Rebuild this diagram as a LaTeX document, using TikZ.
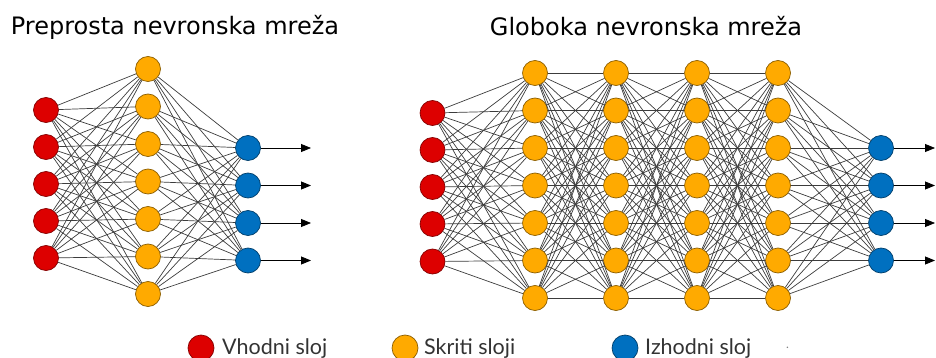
\documentclass[tikz,border=0pt]{standalone}
\usepackage{fontspec}
\setmainfont{DejaVu Sans}
\newfontfamily\legfont{Lato}
\usetikzlibrary{arrows.meta}
\definecolor{inred}{HTML}{DD0000}
\definecolor{hidorange}{HTML}{FFAA00}
\definecolor{outblue}{HTML}{0070C0}
\definecolor{edgegray}{HTML}{3C3C3C}
\definecolor{legtext}{HTML}{333333}

\begin{document}
\begin{tikzpicture}[x=1pt,y=-1pt,
  neuron/.style={circle,minimum size=25pt,inner sep=0pt,line width=0.7pt},
  inneuron/.style={neuron,fill=inred,draw=inred!60!black},
  hidneuron/.style={neuron,fill=hidorange,draw=hidorange!55!black},
  outneuron/.style={neuron,fill=outblue,draw=outblue!55!black},
  link/.style={draw=edgegray,line width=0.7pt},
  outarrow/.style={draw=black,line width=0.8pt,-{Triangle[length=10pt,width=8pt]}},
  nettitle/.style={anchor=base,font=\fontsize{24}{28}\selectfont},
  legdot/.style={circle,minimum size=26pt,inner sep=0pt,line width=0.7pt},
  legtextstyle/.style={anchor=base west,inner sep=0pt,text=legtext,font=\legfont\fontsize{21.5}{25}\selectfont}
]
\useasboundingbox (0,0) rectangle (936,358);

% ---------- simple network ----------
\node[nettitle] (t1) at (175,35) {Preprosta nevronska mreža};

\foreach \y [count=\i] in {110,147,184,221,258}
  \node[inneuron] (Li\i) at (46,\y) {};
\foreach \y [count=\i] in {69,106.5,144,181.5,219,256.5,294}
  \node[hidneuron] (Lh\i) at (148,\y) {};
\foreach \y [count=\i] in {148,185.5,223,260.5}{
  \node[outneuron] (Lo\i) at (248,\y) {};
  \coordinate (Le\i) at (311,\y);
}

\foreach \i in {1,...,5}
  \foreach \j in {1,...,7}
    \draw[link] (Li\i) -- (Lh\j);
\foreach \i in {1,...,7}
  \foreach \j in {1,...,4}
    \draw[link] (Lh\i) -- (Lo\j);
\foreach \i in {1,...,4}
  \draw[outarrow] (Lo\i) -- (Le\i);

% ---------- deep network ----------
\node[nettitle] (t2) at (646,36) {Globoka nevronska mreža};

\foreach \y [count=\i] in {113,150,187,224,261.5}
  \node[inneuron] (Ri\i) at (432.5,\y) {};
\foreach \x [count=\c] in {535,616,697,778}
  \foreach \y [count=\i] in {73,110.5,148,185.5,223,260.5,298}
    \node[hidneuron] (Rh\c-\i) at (\x,\y) {};
\foreach \y [count=\i] in {148,185.5,223,260.5}{
  \node[outneuron] (Ro\i) at (881,\y) {};
  \coordinate (Re\i) at (935,\y);
}

\foreach \i in {1,...,5}
  \foreach \j in {1,...,7}
    \draw[link] (Ri\i) -- (Rh1-\j);
\foreach \c in {1,2,3}{
  \pgfmathtruncatemacro\d{\c+1}
  \foreach \i in {1,...,7}
    \foreach \j in {1,...,7}
      \draw[link] (Rh\c-\i) -- (Rh\d-\j);
}
\foreach \i in {1,...,7}
  \foreach \j in {1,...,4}
    \draw[link] (Rh4-\i) -- (Ro\j);
\foreach \i in {1,...,4}
  \draw[outarrow] (Ro\i) -- (Re\i);

% ---------- legend ----------
\node[legdot,fill=inred,draw=inred!60!black] (k1) at (201,348) {};
\node[legtextstyle] (l1) at (222,354) {Vhodni sloj};
\node[legdot,fill=hidorange,draw=hidorange!55!black] (k2) at (405,348) {};
\node[legtextstyle] (l2) at (424,354) {Skriti sloji};
\node[legdot,fill=outblue,draw=outblue!55!black] (k3) at (625,348) {};
\node[legtextstyle] (l3) at (645,354) {Izhodni sloj};
\node[legtextstyle,text=gray] (l4) at (786,348) {\fontsize{12}{14}\selectfont .};
\end{tikzpicture}
\end{document}
